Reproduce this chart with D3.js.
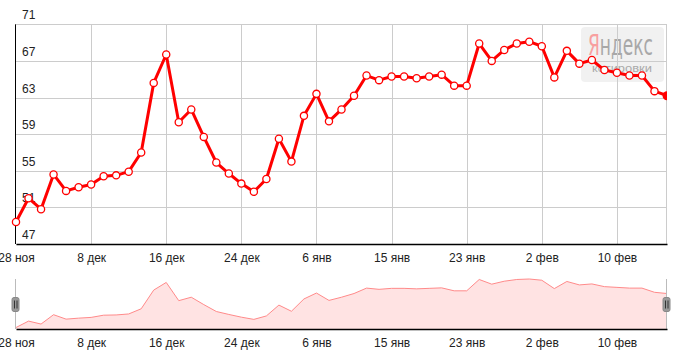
<!DOCTYPE html>
<html><head><meta charset="utf-8">
<script src="https://cdn.jsdelivr.net/npm/d3@7"></script>
<style>
body{margin:0;background:#fff;}
svg{display:block;font-family:"Liberation Sans",Arial,sans-serif;}
</style></head><body>
<svg id="c" width="675" height="353"></svg>
<script>
const values = [49.4,52.0,50.8,54.6,52.8,53.2,53.5,54.4,54.5,54.9,57.0,64.6,67.7,60.3,61.7,58.7,55.9,54.7,53.6,52.7,54.1,58.5,56.0,61.0,63.4,60.4,61.7,63.2,65.4,64.9,65.3,65.3,65.1,65.3,65.5,64.3,64.3,68.9,67.0,68.2,68.9,69.1,68.6,65.2,68.1,66.7,67.1,66.0,65.7,65.4,65.4,63.7,63.2];
const tickIndex = [0,6,12,18,24,30,36,42,48];
const tickLabels = ["28 ноя","8 дек","16 дек","24 дек","6 янв","15 янв","23 янв","2 фев","10 фев"];
const yTicks = [47,51,55,59,63,67,71];

const svg = d3.select("#c");
const L = 16, R = 667, T = 24.3, B = 244;
const idx = values.map((d,i)=>i);
const x = d3.scalePoint().domain(idx).range([L,R]);
const y = d3.scaleLinear().domain([47,71]).range([B,T]);

// watermark
const wm = svg.append("g");
wm.append("rect").attr("x",581).attr("y",27).attr("width",83).attr("height",55).attr("rx",4).attr("fill","#eeeeee").attr("opacity",0.8);
const wt = wm.append("text").attr("x",588).attr("y",55).attr("font-size",29)
  .attr("textLength",65).attr("lengthAdjust","spacingAndGlyphs")
  .attr("font-family","'Liberation Sans Narrow','DejaVu Sans Condensed',Arial,sans-serif");
wt.append("tspan").attr("fill","#f8a0a0").text("Я");
wt.append("tspan").attr("fill","#a8a8a8").text("ндекс");
wm.append("text").attr("x",592).attr("y",72).attr("font-size",11).attr("fill","#aaaaaa")
  .attr("textLength",60).attr("lengthAdjust","spacingAndGlyphs").text("котировки");

// grid
const g = svg.append("g");
g.selectAll(".hg").data(yTicks).join("line")
  .attr("x1",L).attr("x2",R).attr("y1",d=>Math.round(y(d))+0.5).attr("y2",d=>Math.round(y(d))+0.5)
  .attr("stroke","#cccccc");
g.selectAll(".vg").data(tickIndex.slice(1)).join("line")
  .attr("x1",d=>Math.round(x(d))+0.5).attr("x2",d=>Math.round(x(d))+0.5).attr("y1",T).attr("y2",B)
  .attr("stroke","#cccccc");
g.append("line").attr("x1",R-0.5).attr("x2",R-0.5).attr("y1",T).attr("y2",B).attr("stroke","#cccccc");

// y labels
svg.selectAll(".yl").data(yTicks).join("text")
  .attr("x",22).attr("y",d=>y(d)-5).attr("font-size",12).attr("fill","#222").text(d=>d);

// axes lines
svg.append("line").attr("x1",L-0.5).attr("x2",L-0.5).attr("y1",T).attr("y2",B).attr("stroke","#000");
const xa = d3.axisBottom(x).tickValues(tickIndex).tickFormat((d,i)=>tickLabels[i]).tickSize(0).tickPadding(9);
const xg = svg.append("g").attr("transform",`translate(0,${B})`).call(xa);
xg.select(".domain").attr("stroke","#000").attr("stroke-width",1.5);
xg.selectAll("text").attr("font-size",12).attr("fill","#222").attr("font-family","'Liberation Sans',Arial,sans-serif");

// line
const clip = svg.append("clipPath").attr("id","pc").append("rect").attr("x",0).attr("y",0).attr("width",R).attr("height",B);
const line = d3.line().x((d,i)=>x(i)).y(d=>y(d));
const pg = svg.append("g").attr("clip-path","url(#pc)");
pg.append("path").datum(values).attr("d",line).attr("fill","none").attr("stroke","#ff0000").attr("stroke-width",3).attr("stroke-linejoin","round");
pg.selectAll(".pt").data(values.slice(0,-1)).join("circle")
  .attr("cx",(d,i)=>x(i)).attr("cy",d=>y(d)).attr("r",3.6)
  .attr("fill","#fff").attr("stroke","#ff0000").attr("stroke-width",1.3);
pg.append("circle").attr("cx",x(values.length-1)).attr("cy",y(values[values.length-1])).attr("r",4.5).attr("fill","#ff0000");

// navigator
const NB = 329, NT = 279, NBot = 327.5;
const ny = d3.scaleLinear().domain([d3.min(values), d3.max(values)]).range([NBot, NT]);
const area = d3.area().x((d,i)=>x(i)).y0(NB).y1(d=>ny(d));
svg.append("path").datum(values).attr("d",area).attr("fill","#ffe3e3");
svg.append("path").datum(values).attr("d",d3.line().x((d,i)=>x(i)).y(d=>ny(d))).attr("fill","none").attr("stroke","#ff8a8a").attr("stroke-width",1);
svg.append("line").attr("x1",L-0.5).attr("x2",L-0.5).attr("y1",NT).attr("y2",NB).attr("stroke","#bbbbbb");
svg.append("line").attr("x1",R-0.5).attr("x2",R-0.5).attr("y1",NT).attr("y2",NB).attr("stroke","#bbbbbb");
const nxa = d3.axisBottom(x).tickValues(tickIndex).tickFormat((d,i)=>tickLabels[i]).tickSize(0).tickPadding(9);
const nxg = svg.append("g").attr("transform",`translate(0,${NB})`).call(nxa);
nxg.select(".domain").attr("stroke","#000").attr("stroke-width",1.5);
nxg.selectAll("text").attr("font-size",12).attr("fill","#222").attr("font-family","'Liberation Sans',Arial,sans-serif");
// handles
[L-0.5, R-0.5].forEach(hx=>{
  const h = svg.append("g");
  h.append("rect").attr("x",hx-3.5).attr("y",297.5).attr("width",7).attr("height",14).attr("rx",2).attr("fill","#999").attr("stroke","#888");
  h.append("line").attr("x1",hx-1).attr("x2",hx-1).attr("y1",300.5).attr("y2",308.5).attr("stroke","#333");
  h.append("line").attr("x1",hx+1.5).attr("x2",hx+1.5).attr("y1",300.5).attr("y2",308.5).attr("stroke","#333");
});
</script></body></html>
